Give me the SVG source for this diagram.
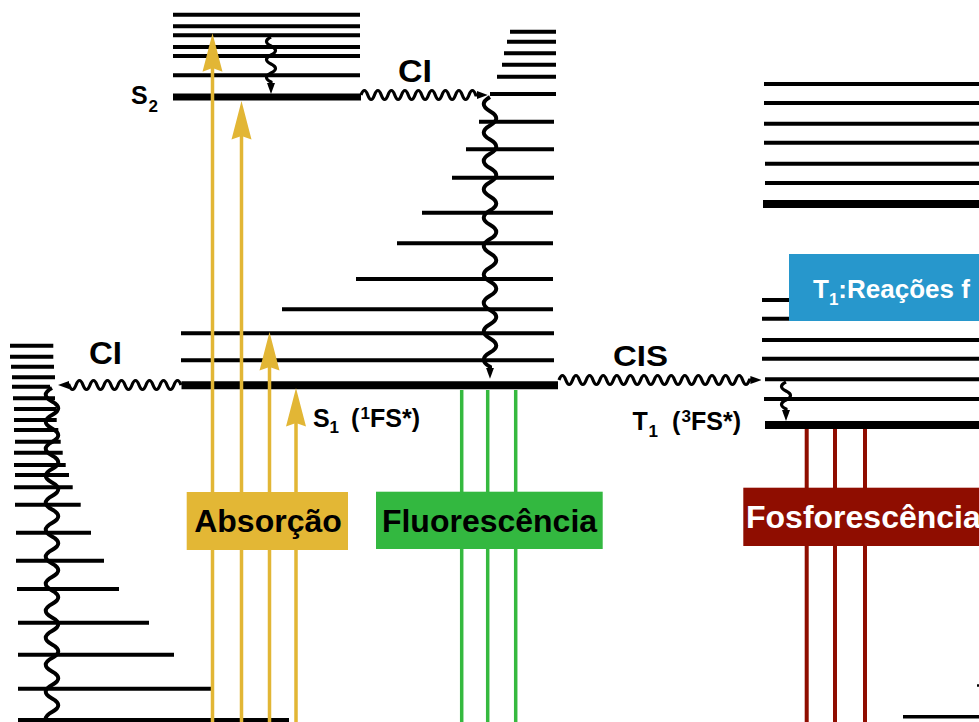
<svg xmlns="http://www.w3.org/2000/svg" width="979" height="722" viewBox="0 0 979 722">
  <defs>
    <style>
      .lv { fill: none; stroke: #000; stroke-width: 4; }
      .lvk { fill: none; stroke: #000; stroke-width: 8; }
      .wv { fill: none; stroke: #000; stroke-width: 3.2; marker-end: url(#ah); }
      .wvn { fill: none; stroke: #000; stroke-width: 3.2; }
      .yl { stroke: #E2B635; stroke-width: 3.5; fill: none; }
      .yh { fill: #E2B635; }
      .gl { stroke: #35B93F; stroke-width: 3.5; fill: none; }
      .rl { stroke: #8F0D00; stroke-width: 4; fill: none; }
      .lab { font-family: "Liberation Sans", Arial, Helvetica, sans-serif; font-weight: bold; fill: #000; }
      .big { font-size: 32px; }
      .st { font-size: 25px; }
      .sm { font-size: 17px; }
    </style>
    <marker id="ah" markerUnits="userSpaceOnUse" markerWidth="11" markerHeight="8" refX="1" refY="4" orient="auto" viewBox="0 0 11 8">
      <path d="M0,0 L11,4 L0,8 z" fill="#000"/>
    </marker>
  </defs>

  <!-- ground-state vibrational ladder (left) -->
  <g id="S0-levels">
    <path class="lv" d="M10,345.7H53.3M10,356.7H53.3M11,366.7H54M12,377.3H55M12,386.7H50M13,398.3H55M14,409H56M14,420H56.7M14,430H58.3M15,441.7H60.7M14,452.7H62.7M14,465H65.7M15,475H69M14,487.3H72.7M15,504.7H80.7M16,532.7H91M16,560.7H104M17,589H119M18,622.7H149M18,654.7H174M18,688.7H212M18,720H289"/>
  </g>

  <!-- S2 manifold -->
  <g id="S2-levels">
    <path class="lv" d="M173,14.7H360M173,26.3H360M173,35.3H360M173,47H360M173,56H360M173,75.3H360"/>
    <path d="M173,97H361" stroke="#000" stroke-width="7"/>
    <text class="lab st" x="131" y="104">S<tspan class="sm" x="148.5" y="112">2</tspan></text>
  </g>

  <!-- S1 manifold -->
  <g id="S1-levels">
    <path class="lv" d="M510,31.7H556M507,41.7H556M504,53.3H556M502,64.7H556M497,76.7H556M490,94H556M479,121.7H554M466,149.3H554M452,177.7H554M422,212.7H553M397,243.3H553M356,279H553M282,309.3H553M181,333.3H554M181,360.3H554"/>
    <path class="lvk" d="M181.5,385.3H558"/>
    <text class="lab st" x="313" y="427">S<tspan class="sm" x="329.5" y="433">1</tspan><tspan x="351" y="427">(</tspan><tspan class="sm" x="360.5" y="418.5">1</tspan><tspan x="370" y="427">FS*)</tspan></text>
  </g>

  <!-- upper triplet manifold -->
  <g id="T2-levels">
    <path class="lv" d="M764,84H979M764,103H979M764,123.7H979M764,142.7H979M765,163.7H979M765,183H979"/>
    <path class="lvk" d="M763,204H979"/>
  </g>

  <!-- T1 manifold -->
  <g id="T1-levels">
    <path class="lv" d="M762,300H979M762,318.7H979M762,340H979M762,358.7H979M765,379.3H979M764,399H979"/>
    <path class="lvk" d="M765,425H979"/>
    <text class="lab st" x="632.5" y="430">T<tspan class="sm" x="648.5" y="437">1</tspan><tspan x="672" y="430">(</tspan><tspan class="sm" x="681.5" y="421.5">3</tspan><tspan x="691" y="430">FS*)</tspan></text>
  </g>

  <!-- lower right level -->
  <g id="S0-right">
    <path d="M903,716.7H979" stroke="#000" stroke-width="3.5"/>
    <path d="M977,685.5H979" stroke="#000" stroke-width="2.5"/>
  </g>

  <!-- transitions -->
  <g id="connectors">
    <!-- absorption -->
    <path class="yl" d="M212.5,722V60M241.5,722V128M269.5,722V360M296,722V416"/>
    <path class="yh" d="M212.5,33.3L222.5,71.7L212.5,68L202.5,71.7z"/>
    <path class="yh" d="M241.5,101L251.5,139.5L241.5,136L231.5,139.5z"/>
    <path class="yh" d="M269.5,332L279.5,370.5L269.5,367L259.5,370.5z"/>
    <path class="yh" d="M296,388L306,426.5L296,423L286,426.5z"/>
    <!-- fluorescence -->
    <path class="gl" d="M461.7,390V722M487.7,390V722M515.7,390V722"/>
    <!-- phosphorescence -->
    <path class="rl" d="M806.7,429V722M835,429V722M865,429V722"/>

    <!-- internal conversion S2 -> S1 -->
    <path class="wv" d="M361,95q3.375,-9 6.75,0t6.75,0t6.75,0t6.75,0t6.75,0t6.75,0t6.75,0t6.75,0t6.75,0t6.75,0t6.75,0t6.75,0t6.75,0t6.75,0t6.75,0t6.75,0t6.75,0h2"/>
    <!-- vibrational relaxation in S2 -->
    <path class="wv" d="M271,37q-9,4.5 0,9t0,9t0,9t0,9t0,9v2"/>
    <!-- vibrational relaxation in S1 -->
    <path class="wv" style="stroke-width:4" d="M490,97q-12.5,7.1 0,14.2t0,14.2t0,14.2t0,14.2t0,14.2t0,14.2t0,14.2t0,14.2t0,14.2t0,14.2t0,14.2t0,14.2t0,14.2t0,14.2t0,14.2t0,14.2t0,14.2t0,14.2t0,14.2v2"/>
    <!-- internal conversion S1 -> S0 -->
    <path class="wv" d="M181,385q-3.5,-9 -7,0t-7,0t-7,0t-7,0t-7,0t-7,0t-7,0t-7,0t-7,0t-7,0t-7,0t-7,0t-7,0t-7,0t-7,0t-7,0h-1"/>
    <!-- vibrational relaxation in S0 -->
    <path class="wvn" style="stroke-width:4" d="M52,388q-12.5,6.75 0,13.5t0,13.5t0,13.5t0,13.5t0,13.5t0,13.5t0,13.5t0,13.5t0,13.5t0,13.5t0,13.5t0,13.5t0,13.5t0,13.5t0,13.5t0,13.5t0,13.5t0,13.5t0,13.5t0,13.5t0,13.5t0,13.5t0,13.5t0,13.5t0,13.5"/>
    <!-- intersystem crossing S1 -> T1 -->
    <path class="wv" d="M559,380q3.4,-9 6.8,0t6.8,0t6.8,0t6.8,0t6.8,0t6.8,0t6.8,0t6.8,0t6.8,0t6.8,0t6.8,0t6.8,0t6.8,0t6.8,0t6.8,0t6.8,0t6.8,0t6.8,0t6.8,0t6.8,0t6.8,0t6.8,0t6.8,0t6.8,0t6.8,0t6.8,0t6.8,0t6.8,0h2"/>
    <!-- vibrational relaxation in T1 -->
    <path class="wv" d="M786,382q-9,4.5 0,9t0,9t0,9v2"/>
  </g>

  <!-- process labels -->
  <g id="label-CI-top">
    <text class="lab" x="398" y="81.7" font-size="31" textLength="34" lengthAdjust="spacingAndGlyphs">CI</text>
  </g>
  <g id="label-CI-left">
    <text class="lab" x="89" y="364.3" font-size="31" textLength="33" lengthAdjust="spacingAndGlyphs">CI</text>
  </g>
  <g id="label-CIS">
    <text class="lab" x="613" y="365.5" font-size="30" textLength="55" lengthAdjust="spacingAndGlyphs">CIS</text>
  </g>

  <g id="box-absorcao">
    <rect x="186.7" y="492" width="161.3" height="58" fill="#E3B735"/>
    <text class="lab big" x="268" y="532" text-anchor="middle">Absorção</text>
  </g>
  <g id="box-fluorescencia">
    <rect x="376" y="491.7" width="226.7" height="57.3" fill="#33B840"/>
    <text class="lab big" x="489.5" y="532" text-anchor="middle">Fluorescência</text>
  </g>
  <g id="box-fosforescencia">
    <rect x="743.3" y="487.7" width="240" height="58.3" fill="#8F0D00"/>
    <text class="lab big" x="746" y="528" style="fill:#fff">Fosforescência</text>
  </g>
  <g id="box-T1-reacoes">
    <rect x="789" y="254" width="195" height="67" fill="#2797CC"/>
    <text class="lab" x="813" y="298" font-size="26" style="fill:#fff">T<tspan font-size="17" y="305">1</tspan><tspan y="298">:Reações f</tspan></text>
  </g>
</svg>
